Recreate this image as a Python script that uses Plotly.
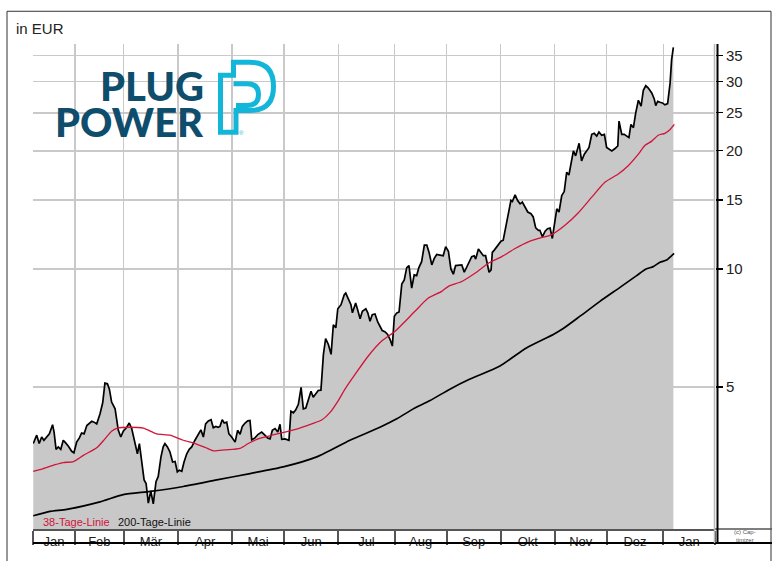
import plotly.graph_objects as go
import math

# ---------------- data (x = trading-day index from start of chart) ----------------
days = [0.1,0.8,1.5,2.5,3.5,4.4,5.5,6.6,7.9,8.5,
        9.3,10.2,11.2,12.2,12.9,14.2,15.6,16.5,17.6,18.7,
        19.6,20.6,21.7,22.7,23.7,24.6,25.7,27.0,28.1,29.0,
        30.0,30.8,31.7,33.1,34.0,34.4,35.4,36.4,37.8,38.8,
        39.8,40.4,41.5,42.1,42.9,43.8,44.8,45.6,46.5,47.5,
        48.5,49.6,50.5,51.6,52.5,53.2,54.2,55.2,56.3,57.3,
        58.2,59.0,60.0,60.9,62.0,63.0,
        64.0,65.3,66.7,67.7,68.7,69.6,70.7,71.8,72.7,73.7,
        74.7,75.4,76.3,77.1,78.1,79.0,80.1,81.5,82.5,83.5,
        84.4,85.5,86.6,87.5,88.2,89.5,90.8,92.2,93.5,94.6,
        95.6,96.5,97.6,98.7,99.6,100.3,101.6,103.2,104.0,105.0,
        105.9,107.0,108.1,109.0,110.0,111.0,112.1,113.0,114.0,115.0,
        116.1,117.1,118.0,119.1,120.2,121.1,122.1,122.9,124.2,125.5,
        126.1,127.4,128.2,128.8,130.1,130.9,131.9,132.8,134.2,135.0,
        135.9,136.8,137.9,139.0,139.9,140.8,141.9,143.0,144.0,144.9,
        145.7,146.7,147.6,148.7,149.7,150.7,151.6,152.7,153.7,154.7,
        155.6,156.7,157.8,158.8,159.7,160.8,161.8,162.8,164.1,165.4,
        166.4,167.5,168.5,169.5,170.4,171.8,172.9,173.9,174.9,175.8,
        176.9,177.9,178.5,179.6,180.6,181.6,182.5,183.3,183.9,184.7,
        185.2,186.0,187.4,188.7,189.6,190.6,191.7,192.7,193.3,194.4,
        195.4,196.4,197.3,198.4,199.5,200.8,201.7,202.7,203.8,204.4,
        205.4,206.5,207.5,208.5,209.4,210.5,211.2,212.1,213.2,214.2,
        215.2,216.1,216.9,217.9,218.8,220.2,221.2,222.3,223.3,224.2,
        225.3,226.3,227.3,228.2,229.3,230.4,231.3,232.3,233.4,234.7,
        235.8,236.3,237.4,238.4,239.4,240.3,241.1,242.1,243.0,244.1,
        245.2,246.1,247.1,248.1,249.5,250.5,251.1,251.9,252.8,253.8,
        254.8,255.9,256.9,257.5,258.2]

price = [3.59,3.69,3.77,3.59,3.73,3.66,3.73,3.80,4.01,3.84,
         3.47,3.52,3.47,3.66,3.62,3.54,3.43,3.40,3.62,3.71,
         3.82,3.80,3.99,4.03,4.09,4.07,4.03,4.27,4.56,5.12,
         5.10,4.94,4.58,4.40,4.07,3.88,3.73,3.86,3.95,4.05,
         3.92,3.77,3.56,3.38,3.59,3.29,2.90,2.84,2.53,2.72,
         2.52,2.87,2.96,3.32,3.52,3.59,3.52,3.42,3.22,3.23,
         3.04,3.07,3.05,3.22,3.38,3.47,
         3.52,3.66,3.80,3.89,3.73,4.03,4.10,4.13,3.94,3.97,
         3.95,3.97,4.13,4.05,4.07,3.80,3.73,3.62,3.88,3.79,
         3.97,4.05,4.10,4.11,3.67,3.71,3.79,3.84,3.77,3.71,
         3.69,3.88,3.92,3.84,4.02,3.68,3.69,3.66,4.34,4.30,
         4.37,4.52,4.99,4.40,4.42,4.67,4.88,4.71,4.80,4.90,
         4.91,6.06,6.65,6.42,6.06,7.21,7.08,7.92,8.11,8.60,
         8.68,8.35,8.11,7.73,8.19,7.87,7.47,7.80,7.92,7.73,
         7.36,7.65,7.68,7.33,7.15,6.97,6.92,6.81,6.61,6.36,
         7.58,7.73,7.77,9.15,9.38,10.08,10.20,8.94,9.66,9.62,
         10.08,10.44,11.50,11.50,11.02,10.24,10.64,10.89,10.85,10.81,
         11.39,11.10,10.00,9.70,10.20,10.20,10.24,9.81,10.14,10.48,
         10.75,10.81,10.60,11.24,11.02,10.81,10.81,10.24,9.81,9.94,
         11.02,11.17,11.50,11.77,11.84,12.80,13.70,14.95,14.86,15.45,
         14.95,14.66,14.81,14.38,13.97,13.83,13.57,12.73,12.55,12.55,
         12.08,12.48,12.67,12.72,11.96,13.30,14.24,13.97,15.39,15.75,
         17.65,17.36,18.70,20.00,19.42,20.91,18.86,19.62,20.00,20.40,
         22.04,22.17,21.82,22.34,21.92,22.04,20.40,20.20,20.00,20.28,
         20.59,23.82,22.04,22.04,21.82,21.62,23.36,22.92,24.93,26.92,
         26.00,28.55,29.33,28.92,28.11,27.13,26.09,26.76,26.60,26.50,
         26.20,26.40,29.81,34.12,36.70]

ma38_days = [0.1,4.2,8.9,12.2,16.3,20.3,25.7,29.0,31.7,34.0,
             39.1,44.5,49.9,55.2,60.6,65.3,69.4,72.7,77.4,83.5,
             86.8,90.8,96.3,101.6,107.0,112.4,116.4,119.8,123.1,125.8,
             135.2,140.6,146.0,154.0,159.4,164.8,167.5,172.9,178.2,183.6,
             189.0,194.4,199.7,203.8,209.2,214.5,219.9,225.3,230.6,236.0,
             240.0,244.1,246.8,249.5,252.1,254.8,256.9,258.6]
ma38 = [3.05,3.10,3.17,3.21,3.23,3.35,3.50,3.69,3.86,3.93,
        3.95,3.93,3.80,3.77,3.66,3.59,3.51,3.44,3.46,3.49,
        3.59,3.69,3.77,3.84,3.92,4.03,4.12,4.31,4.62,4.94,
        6.00,6.55,6.94,7.80,8.43,8.77,9.03,9.29,9.75,10.34,
        10.75,11.28,11.73,11.96,12.24,12.92,13.91,15.24,16.64,17.46,
        18.33,19.62,20.66,21.18,21.92,22.17,22.68,23.36]

ma200_days = [0.1,6.9,13.6,27.0,36.4,47.2,60.6,74.1,87.5,100.9,
              114.4,127.8,139.9,146.7,153.3,160.1,168.1,176.2,188.3,199.1,
              209.8,213.8,220.6,228.6,236.7,243.4,247.2,250.1,252.8,255.5,
              258.5]
ma200 = [2.35,2.41,2.44,2.55,2.66,2.71,2.79,2.90,3.01,3.13,
         3.32,3.66,3.95,4.15,4.40,4.62,4.94,5.24,5.66,6.30,
         6.81,7.05,7.58,8.27,8.98,9.62,10.00,10.14,10.40,10.54,
         10.96]

month_starts = [0, 16.9, 36.6, 58.5, 80.3, 101.2, 123.1, 145.8, 166.8, 188.6, 210.4, 231.3, 254.2, 275]
month_labels = ["Jan", "Feb", "Mär", "Apr", "Mai", "Jun", "Jul", "Aug", "Sep", "Okt", "Nov", "Dez", "Jan"]
y_ticks = [5, 10, 15, 20, 25, 30, 35]
y_min, y_max = 2.174, 37.45

# ---------------- layout geometry ----------------
W, H = 772, 561
L, R, T, B = 33, 715, 44, 533


def px(x):
    return (x - L) / (R - L)


def py(y):
    return (B - y) / (B - T)


def pt(x, y):
    return f"{px(x):.5f},{py(y):.5f}"


FONT = "Liberation Sans, Arial, sans-serif"
RED = "#d0143a"
GRID = "#c9c9c9"
FILL = "#c8c8c8"
CYAN = "#12b6d9"
NAVY = "#0f4d6c"

fig = go.Figure()

# baseline below the visible range so the fill reaches the bottom of the plot
fig.add_trace(go.Scatter(x=days, y=[1.0] * len(days), mode="lines",
                         line=dict(width=0, color="rgba(0,0,0,0)"), hoverinfo="skip"))
fig.add_trace(go.Scatter(x=days, y=price, mode="lines", fill="tonexty",
                         fillcolor=FILL, line=dict(color="black", width=1.7)))
fig.add_trace(go.Scatter(x=ma38_days, y=ma38, mode="lines",
                         line=dict(color=RED, width=1.3, shape="spline", smoothing=0.6)))
fig.add_trace(go.Scatter(x=ma200_days, y=ma200, mode="lines",
                         line=dict(color="black", width=1.7, shape="spline", smoothing=0.6)))

centers = [(month_starts[i] + month_starts[i + 1]) / 2 for i in range(len(month_labels))]

fig.update_layout(
    width=W, height=H,
    margin=dict(l=L, r=W - R, t=T, b=H - B, pad=0),
    paper_bgcolor="white", plot_bgcolor="white",
    showlegend=False, hovermode=False,
    font=dict(family=FONT, color="#222"),
    xaxis=dict(
        range=[0, 275], showgrid=False, zeroline=False,
        tickmode="array", tickvals=centers, ticktext=month_labels,
        ticks="", tickfont=dict(size=13, color="#222", family=FONT),
        showline=True, linecolor="#555", linewidth=1.5,
        layer="above traces",
        minor=dict(tickmode="array", tickvals=month_starts, showgrid=True,
                   gridcolor=GRID, gridwidth=1.3,
                   ticks="outside", ticklen=14, tickwidth=2, tickcolor="#555"),
    ),
    yaxis=dict(
        type="log", range=[math.log10(y_min), math.log10(y_max)],
        side="right", tickmode="array", tickvals=y_ticks,
        ticktext=[str(v) for v in y_ticks],
        ticks="outside", ticklen=7, tickwidth=1.2, tickcolor="black",
        tickfont=dict(size=15, color="#222", family=FONT),
        showgrid=True, gridcolor=GRID, gridwidth=1.3,
        zeroline=False, showline=False, layer="above traces",
    ),
)

shapes = []
# outer frame
shapes.append(dict(type="rect", xref="paper", yref="paper",
                   x0=px(7), x1=px(771), y0=py(566), y1=py(11),
                   line=dict(color="#333", width=1), layer="below"))
# month band bottom line and top line continuation into the copyright cell
shapes.append(dict(type="line", xref="paper", yref="paper",
                   x0=px(33), x1=px(772), y0=py(547), y1=py(547),
                   line=dict(color="black", width=2)))
shapes.append(dict(type="line", xref="paper", yref="paper",
                   x0=px(715), x1=px(772), y0=py(533), y1=py(533),
                   line=dict(color="#555", width=1.5)))
# gray line at right plot edge + thick black axis line
shapes.append(dict(type="line", xref="paper", yref="paper",
                   x0=px(714.5), x1=px(714.5), y0=py(547), y1=py(44),
                   line=dict(color="#b8b8b8", width=1.5)))
shapes.append(dict(type="line", xref="paper", yref="paper",
                   x0=px(717.5), x1=px(717.5), y0=py(547), y1=py(44),
                   line=dict(color="black", width=2)))

# Plug Power logo mark (decorative)
outer = (f"M {pt(220.5, 133.0)} L {pt(220.5, 75.5)} L {pt(233.5, 75.5)} L {pt(233.5, 62.5)} "
         f"L {pt(250.0, 62.5)} Q {pt(273.5, 62.5)} {pt(273.5, 86.8)} "
         f"Q {pt(273.5, 111.0)} {pt(250.0, 111.0)} L {pt(236.0, 111.0)} "
         f"L {pt(236.0, 133.0)} L {pt(220.5, 133.0)} Z")
shapes.append(dict(type="path", xref="paper", yref="paper", path=outer,
                   line=dict(color=CYAN, width=5), layer="above"))
inner = (f"M {pt(233.5, 84.0)} L {pt(247.0, 84.0)} Q {pt(258.5, 84.0)} {pt(258.5, 95.0)} "
         f"Q {pt(258.5, 106.0)} {pt(247.0, 106.0)} L {pt(236.0, 106.0)}")
shapes.append(dict(type="path", xref="paper", yref="paper", path=inner,
                   line=dict(color=CYAN, width=5), layer="above"))
fig.update_layout(shapes=shapes)

ann = []
ann.append(dict(text="in EUR", x=px(14), y=py(28), xref="paper", yref="paper",
                xanchor="left", yanchor="middle", showarrow=False,
                font=dict(size=15, color="#222", family=FONT)))
ann.append(dict(text="38-Tage-Linie", x=px(41), y=py(526), xref="paper", yref="paper",
                xanchor="left", yanchor="middle", showarrow=False,
                font=dict(size=11, color=RED, family=FONT)))
ann.append(dict(text="200-Tage-Linie", x=px(116), y=py(526), xref="paper", yref="paper",
                xanchor="left", yanchor="middle", showarrow=False,
                font=dict(size=11, color="#111", family=FONT)))
ann.append(dict(text="(c) Cap-<br>timizer", x=px(745), y=py(540), xref="paper", yref="paper",
                xanchor="center", yanchor="middle", showarrow=False,
                font=dict(size=6, color="#555", family=FONT)))
ann.append(dict(text="PLUG", x=px(206), y=py(86), xref="paper", yref="paper",
                xanchor="right", yanchor="middle", showarrow=False, height=35,
                font=dict(size=40, color=NAVY, family="Lato, Inter, sans-serif", weight=900)))
ann.append(dict(text="POWER", x=px(206), y=py(122), xref="paper", yref="paper",
                xanchor="right", yanchor="middle", showarrow=False, height=35,
                font=dict(size=40, color=NAVY, family="Lato, Inter, sans-serif", weight=900)))
ann.append(dict(text="®", x=px(241), y=py(134), xref="paper", yref="paper",
                xanchor="center", yanchor="middle", showarrow=False,
                font=dict(size=6, color=CYAN, family=FONT)))
fig.update_layout(annotations=ann)

fig.write_html("out.html", config={"displayModeBar": False, "staticPlot": True})

# remove the browser's default page margin so the figure sits at the window origin
with open("out.html", encoding="utf-8") as f:
    html = f.read()
html = html.replace("<head>", "<head><style>html,body{margin:0;padding:0;overflow:hidden;}</style>", 1)
with open("out.html", "w", encoding="utf-8") as f:
    f.write(html)
